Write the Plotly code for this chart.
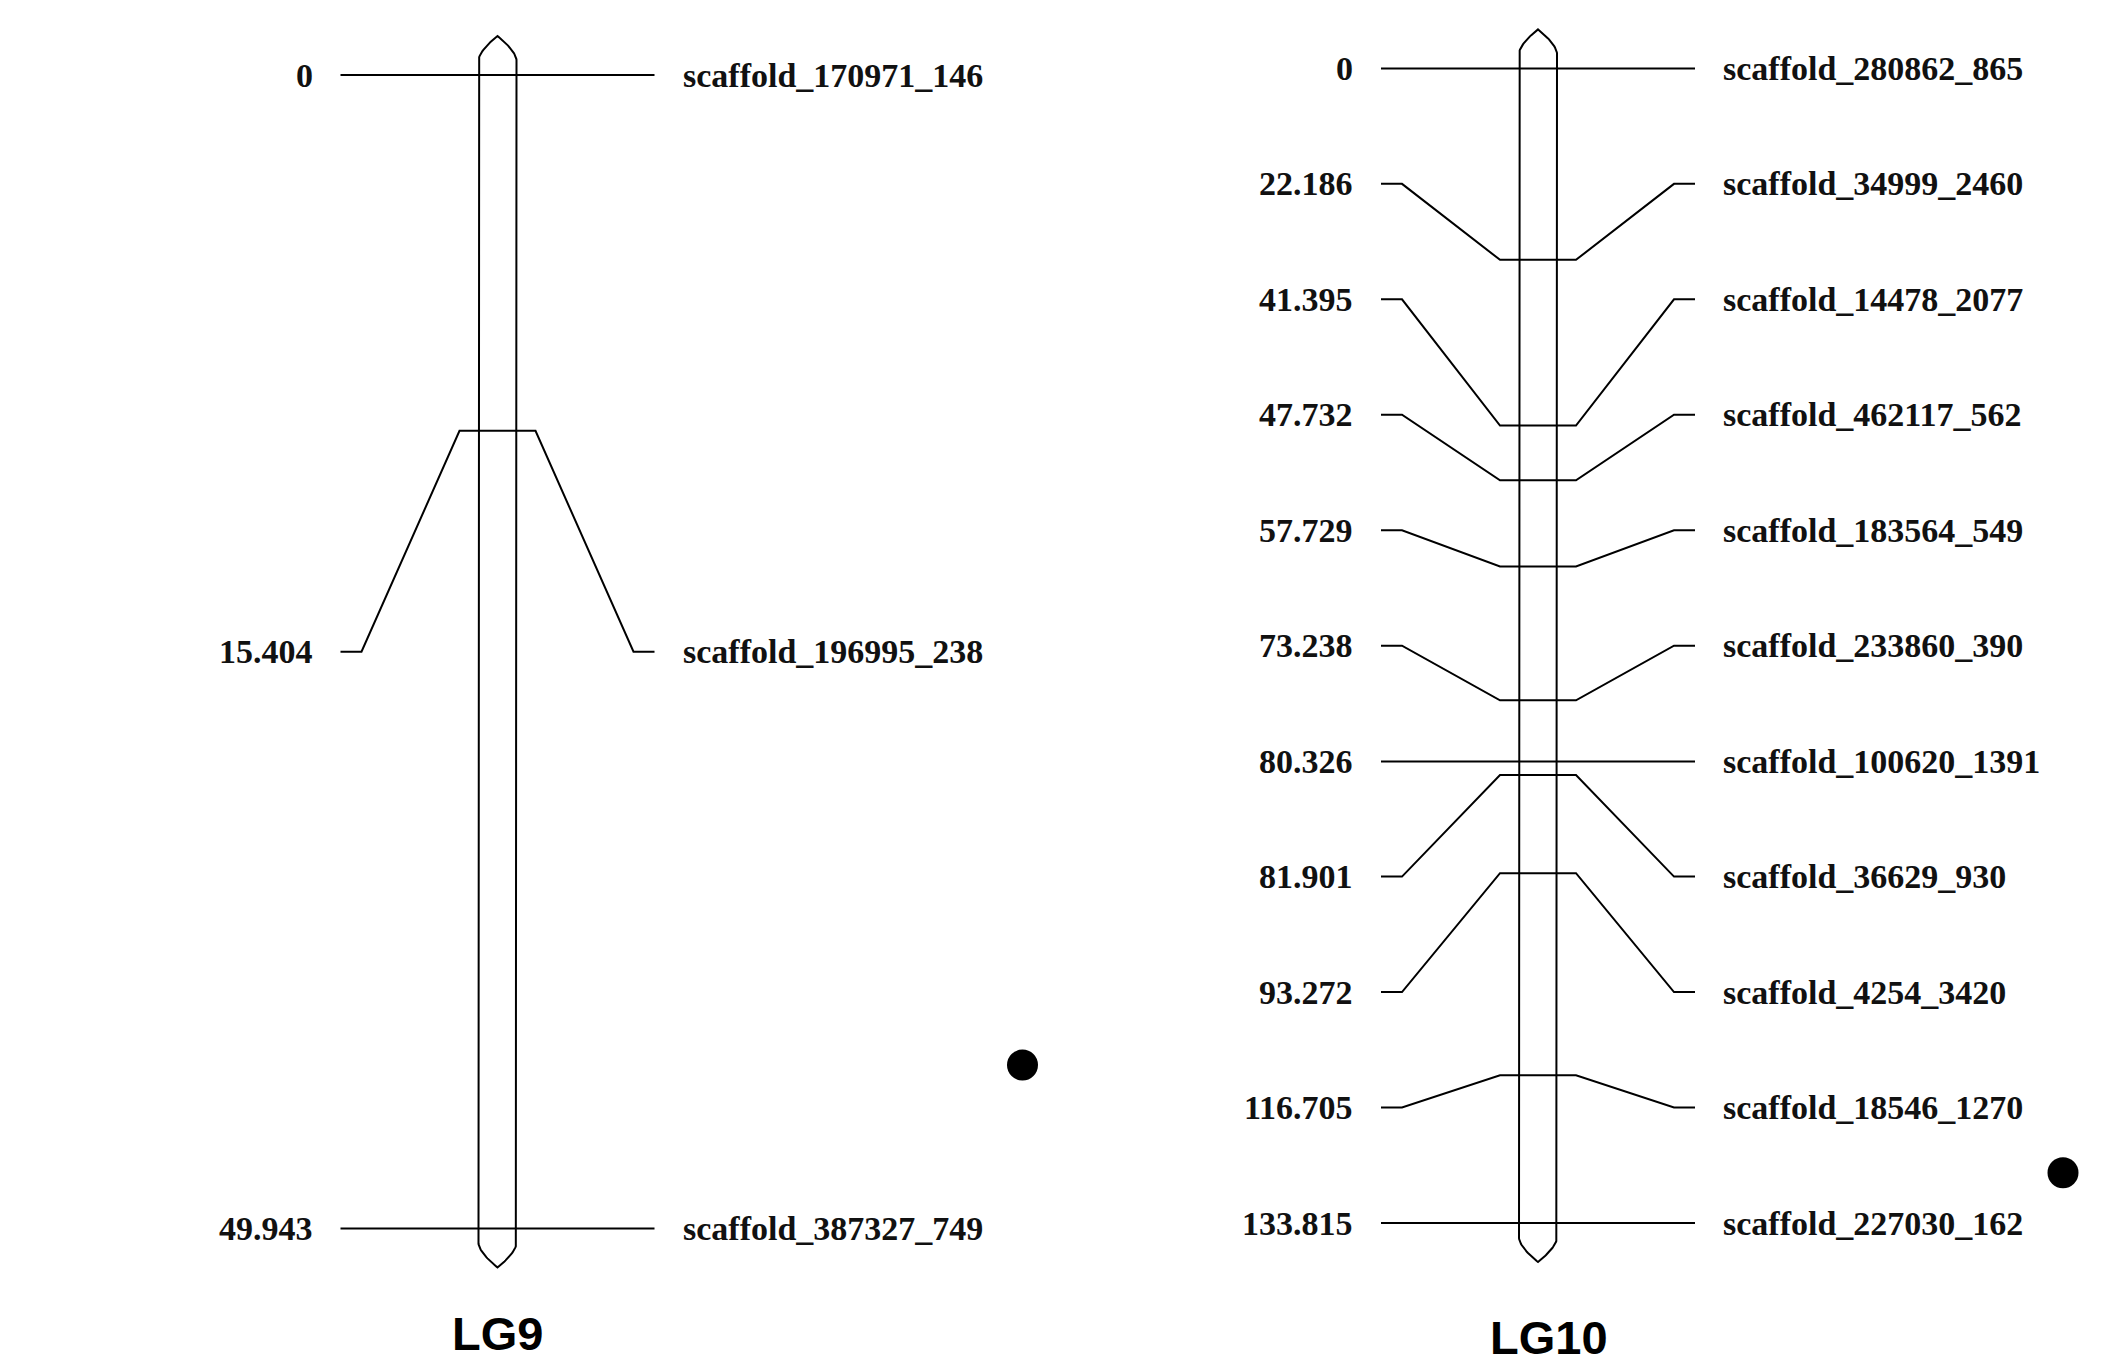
import numpy as np
import plotly.graph_objects as go

# ---------------- data ----------------
group_names = ["LG9", "LG10"]

lg9_markers = ["scaffold_170971_146", "scaffold_196995_238", "scaffold_387327_749"]
lg9_pos = [0, 15.404, 49.943]
lg9_pos_labels = ["0", "15.404", "49.943"]

lg10_markers = ["scaffold_280862_865", "scaffold_34999_2460", "scaffold_14478_2077",
                "scaffold_462117_562", "scaffold_183564_549", "scaffold_233860_390",
                "scaffold_100620_1391", "scaffold_36629_930", "scaffold_4254_3420",
                "scaffold_18546_1270", "scaffold_227030_162"]
lg10_pos = [0, 22.186, 41.395, 47.732, 57.729, 73.238, 80.326, 81.901, 93.272,
            116.705, 133.815]
lg10_pos_labels = ["0", "22.186", "41.395", "47.732", "57.729", "73.238", "80.326",
                   "81.901", "93.272", "116.705", "133.815"]

dot_pos = [42.87, 128.0]   # cM position of the black dot next to each group

# ---------------- layout parameters (page pixels) ----------------
W, H = 2103, 1363
centers = [497.5, 1538.0]
top_px = [75.1, 68.4]
bot_px = [1228.4, 1223.0]
title_xy = [(497.5, 1333), (1549, 1337)]
HW = 19          # half width of chromosome
STUB_START = 157
STUB_END = 136
DIAG = 38
LAB_OFF = 183
DOT_OFF = 525
TIP_STRAIGHT = 15
TIP_ARCH = 24

groups = [
    (lg9_markers, lg9_pos, lg9_pos_labels),
    (lg10_markers, lg10_pos, lg10_pos_labels),
]

fig = go.Figure()
annotations = []
LINE = dict(color="black", width=2)
label_font = dict(family="Liberation Serif", size=34, color="#111111", weight="bold")

for gi, (names, pos, plabels) in enumerate(groups):
    cx = centers[gi]
    yref = "y" if gi == 0 else "y2"
    ln = max(pos)
    ppc = (bot_px[gi] - top_px[gi]) / ln   # pixels per cM
    t1 = TIP_STRAIGHT / ppc
    t2 = (TIP_STRAIGHT + TIP_ARCH) / ppc

    # chromosome outline with pointed ends
    s = np.linspace(0, 1, 25)
    hw = HW * (1 - s ** 1.6)
    xs = [cx - HW, cx - HW] + list(cx - hw) + list((cx + hw)[::-1]) + [cx + HW] \
        + list(cx + hw) + list((cx - hw)[::-1]) + [cx - HW]
    ys = [ln + t1, -t1] + [-t1 - (t2 - t1) * v for v in s] + [-t1 - (t2 - t1) * v for v in s[::-1]] \
        + [ln + t1] + [ln + t1 + (t2 - t1) * v for v in s] + [ln + t1 + (t2 - t1) * v for v in s[::-1]] + [ln + t1]
    fig.add_trace(go.Scatter(x=xs, y=ys, mode="lines", line=LINE, yaxis=yref,
                             hoverinfo="skip", showlegend=False))

    n = len(pos)
    for i, (nm, p, pl) in enumerate(zip(names, pos, plabels)):
        slot = ln * i / (n - 1)
        if abs(slot - p) * ppc < 1.5:
            lx = [cx - STUB_START, cx + STUB_START]
            ly = [p, p]
        else:
            lx = [cx - STUB_START, cx - STUB_END, cx - DIAG, cx + DIAG, cx + STUB_END, cx + STUB_START]
            ly = [slot, slot, p, p, slot, slot]
        fig.add_trace(go.Scatter(x=lx, y=ly, mode="lines", line=LINE, yaxis=yref,
                                 hoverinfo="skip", showlegend=False))
        annotations.append(dict(x=cx - LAB_OFF, y=slot, xref="x", yref=yref, text=pl,
                                showarrow=False, xanchor="right", yanchor="middle",
                                font=label_font))
        annotations.append(dict(x=cx + LAB_OFF, y=slot, xref="x", yref=yref, text=nm,
                                showarrow=False, xanchor="left", yanchor="middle",
                                font=label_font))

    # black dot
    fig.add_trace(go.Scatter(x=[cx + DOT_OFF], y=[dot_pos[gi]], mode="markers", yaxis=yref,
                             marker=dict(color="black", size=31), hoverinfo="skip",
                             showlegend=False))
    # group title
    tx, ty = title_xy[gi]
    annotations.append(dict(x=tx, y=1 - ty / H, xref="x", yref="paper",
                            text=group_names[gi],
                            showarrow=False, xanchor="center", yanchor="middle",
                            font=dict(family="Liberation Sans", size=47, color="black",
                                      weight="bold")))


def yrange(gi, ln):
    ppc = (bot_px[gi] - top_px[gi]) / ln
    return [(H - top_px[gi]) / ppc, (0 - top_px[gi]) / ppc]


fig.update_layout(
    width=W, height=H,
    margin=dict(l=0, r=0, t=0, b=0),
    paper_bgcolor="white", plot_bgcolor="white",
    xaxis=dict(range=[0, W], visible=False, fixedrange=True),
    yaxis=dict(range=yrange(0, max(lg9_pos)), visible=False, fixedrange=True),
    yaxis2=dict(range=yrange(1, max(lg10_pos)), visible=False, fixedrange=True,
                overlaying="y"),
    annotations=annotations,
    showlegend=False,
)

fig.write_html("out.html", config={"displayModeBar": False},
               post_script="document.body.style.margin='0';document.body.style.overflow='hidden';")
